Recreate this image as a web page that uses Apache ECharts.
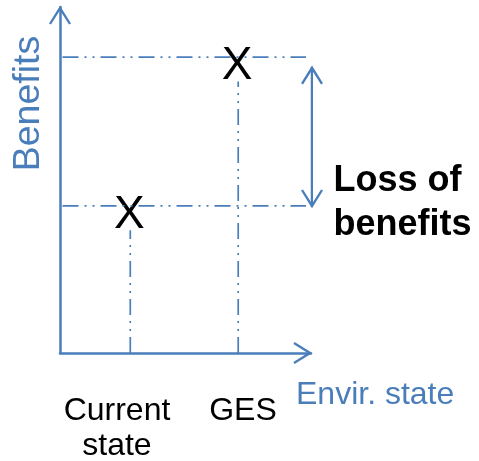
<!DOCTYPE html>
<html><head><meta charset="utf-8">
<script src="https://cdn.jsdelivr.net/npm/echarts@6/dist/echarts.min.js"></script>
<style>html,body{margin:0;padding:0;background:#fff}#c{width:479px;height:461px}</style>
</head><body><div id="c"></div><script>
// ---- data ----
const states = ['Current\nstate', 'GES'];
const stateX = [2.8, 7.1];
const benefits = [4.25, 8.55];
const stateLabelX = [2.27, 7.29];
const guideXRange = [0.1, 9.8];
const lossArrowX = 10.04;
const lossArrowY = [4.22, 8.27];
const lossLabel = 'Loss of\nbenefits';
const xName = 'Envir. state';
const yName = 'Benefits';
const markText = 'X';

// ---- style ----
const BLUE = '#4a7ebb';
const FONT = 'Liberation Sans, Arial, Helvetica, sans-serif';
const CHEVRON = 'path://M11,-2.6L11.01,-2.6M11,13.7L22,31.4L20,32.6L11,18.3L2,32.6L0,31.4Z';
const CHEV_SIZE = [22, 35.2];
const DASH = [16, 6, 2, 6, 2, 6];
const VGAP = 0.7;

const chart = echarts.init(document.getElementById('c'), null, {renderer: 'canvas'});

const hLines = benefits.map(b => ({
  type: 'line', silent: true, symbol: 'none', clip: false, animation: false,
  data: [[guideXRange[0], b], [guideXRange[1], b]],
  lineStyle: {color: BLUE, width: 1.7, type: DASH}
}));
const vLines = stateX.map((x, i) => ({
  type: 'line', silent: true, symbol: 'none', clip: false, animation: false,
  data: [[x, 0], [x, benefits[i] - VGAP]],
  lineStyle: {color: BLUE, width: 1.7, type: DASH}
}));

const option = {
  animation: false,
  backgroundColor: '#fff',
  grid: {left: 60, right: 168, top: 7, bottom: 108, outerBoundsMode: 'none', containLabel: false},
  xAxis: {
    type: 'value', min: 0, max: 10,
    splitLine: {show: false},
    axisTick: {show: false},
    axisLine: {show: true, onZero: false, symbol: ['none', CHEVRON], symbolSize: CHEV_SIZE,
      lineStyle: {color: BLUE, width: 2.5}},
    axisLabel: {
      show: true, customValues: stateLabelX, margin: 41,
      formatter: v => { const i = stateLabelX.indexOf(v); return i >= 0 ? states[i] : ''; },
      color: '#000', fontSize: 32, lineHeight: 35, fontFamily: FONT, align: 'center'
    },
    name: xName, nameLocation: 'end', nameGap: -15, nameMoveOverlap: false,
    nameTextStyle: {color: BLUE, fontSize: 32, fontFamily: FONT, verticalAlign: 'top', lineHeight: 84}
  },
  yAxis: {
    type: 'value', min: 0, max: 10,
    splitLine: {show: false},
    axisTick: {show: false},
    axisLabel: {show: false},
    axisLine: {show: true, onZero: false, symbol: ['none', CHEVRON], symbolSize: CHEV_SIZE,
      lineStyle: {color: BLUE, width: 2.5}},
    name: yName, nameLocation: 'middle', nameRotate: 90, nameGap: 12, nameMoveOverlap: false,
    nameTextStyle: {color: BLUE, fontSize: 37.5, fontFamily: FONT, padding: [0, 0, 0, 153]}
  },
  series: [
    ...hLines,
    ...vLines,
    {
      type: 'line', silent: true, clip: false, animation: false,
      data: [
        {value: [lossArrowX, lossArrowY[0]], symbolRotate: 180},
        {value: [lossArrowX, lossArrowY[1]], symbolRotate: 0}
      ],
      symbol: CHEVRON, symbolSize: CHEV_SIZE, showSymbol: true, showAllSymbol: true,
      itemStyle: {color: BLUE, opacity: 1},
      lineStyle: {color: BLUE, width: 2.5, type: 'solid'}
    },
    {
      type: 'scatter', silent: true, clip: false, animation: false,
      symbol: 'circle', symbolSize: 1, itemStyle: {color: 'rgba(0,0,0,0)', opacity: 1},
      data: stateX.map((x, i) => [x, benefits[i]]),
      label: {show: true, position: 'inside', formatter: markText, color: '#000',
        fontSize: 46, fontFamily: FONT, offset: [-1, 9]}
    },
    {
      type: 'scatter', silent: true, clip: false, animation: false,
      symbol: 'circle', symbolSize: 1, itemStyle: {color: 'rgba(0,0,0,0)', opacity: 1},
      data: [[lossArrowX, benefits[0]]],
      label: {show: true, position: 'right', distance: 21, formatter: lossLabel, color: '#000',
        fontSize: 36, fontWeight: 'bold', lineHeight: 44, fontFamily: FONT, align: 'left', offset: [0, -3]}
    }
  ]
};
chart.setOption(option);
</script></body></html>
